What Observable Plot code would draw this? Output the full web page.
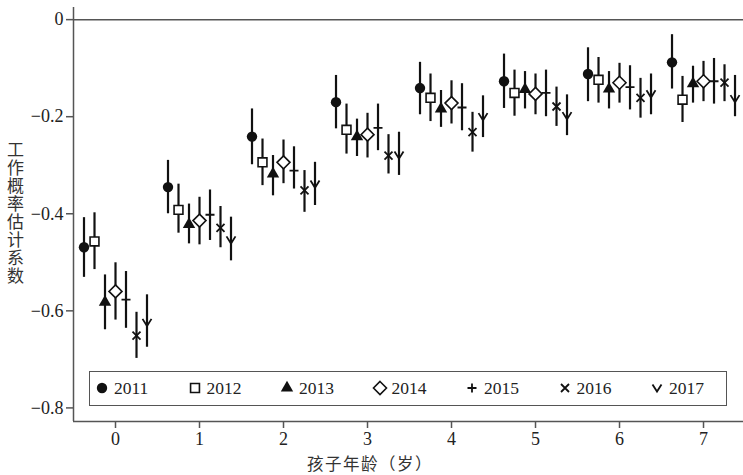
<!DOCTYPE html>
<html>
<head>
<meta charset="utf-8">
<script src="https://cdn.jsdelivr.net/npm/d3@7"></script>
<script src="https://cdn.jsdelivr.net/npm/@observablehq/plot@0.6"></script>
<style>
  html, body { margin: 0; padding: 0; background: #fff; }
  #wrap { position: relative; width: 743px; height: 475px; overflow: hidden; }
  #ylab { position: absolute; left: 6px; top: 141px; writing-mode: vertical-rl; text-orientation: upright;
          font-family: "Noto Sans CJK SC", sans-serif; font-size: 17px; line-height: 18px; letter-spacing: 1px; color: #333; }
  #xlab { position: absolute; left: 250px; width: 240px; top: 454px; text-align: center;
          font-family: "Noto Sans CJK SC", sans-serif; font-size: 16.5px; line-height: 18px; letter-spacing: 1.5px; color: #333; }
  #legend { position: absolute; left: 89px; top: 371px; width: 638px; height: 35px; box-sizing: border-box;
            border: 1.5px solid #555; background: #fff; }
  .li { position: absolute; top: 0; height: 32px; display: flex; align-items: center; }
  .li span { font-family: "Liberation Serif", serif; font-size: 17.5px; color: #222; margin-left: 4px; }
</style>
</head>
<body>
<div id="wrap">
  <div id="chart"></div>
  <div id="ylab">工作概率估计系数</div>
  <div id="xlab">孩子年龄（岁）</div>
  <div id="legend"></div>
</div>
<script>
// ---- data ----
const ages = [0, 1, 2, 3, 4, 5, 6, 7];
const years = ["2011", "2012", "2013", "2014", "2015", "2016", "2017"];
const yTicks = [0, -0.2, -0.4, -0.6, -0.8];

const est2011 = [-0.469, -0.345, -0.241, -0.170, -0.141, -0.127, -0.112, -0.088];
const lo2011  = [-0.531, -0.400, -0.299, -0.225, -0.196, -0.183, -0.169, -0.143];
const hi2011  = [-0.408, -0.290, -0.184, -0.115, -0.088, -0.071, -0.058, -0.031];

const est2012 = [-0.457, -0.392, -0.294, -0.227, -0.161, -0.151, -0.124, -0.165];
const lo2012  = [-0.515, -0.440, -0.342, -0.277, -0.210, -0.199, -0.172, -0.212];
const hi2012  = [-0.398, -0.339, -0.246, -0.174, -0.112, -0.104, -0.078, -0.117];

const est2013 = [-0.582, -0.422, -0.318, -0.241, -0.184, -0.144, -0.143, -0.132];
const lo2013  = [-0.639, -0.462, -0.363, -0.282, -0.222, -0.184, -0.184, -0.172];
const hi2013  = [-0.526, -0.380, -0.280, -0.205, -0.146, -0.107, -0.107, -0.096];

const est2014 = [-0.560, -0.414, -0.294, -0.237, -0.172, -0.153, -0.130, -0.127];
const lo2014  = [-0.619, -0.464, -0.338, -0.285, -0.215, -0.196, -0.172, -0.169];
const hi2014  = [-0.501, -0.366, -0.248, -0.193, -0.126, -0.112, -0.090, -0.086];

const est2015 = [-0.577, -0.402, -0.311, -0.223, -0.181, -0.151, -0.139, -0.127];
const lo2015  = [-0.636, -0.455, -0.349, -0.270, -0.229, -0.200, -0.186, -0.174];
const hi2015  = [-0.519, -0.351, -0.262, -0.174, -0.132, -0.104, -0.095, -0.080];

const est2016 = [-0.651, -0.429, -0.352, -0.280, -0.232, -0.179, -0.161, -0.130];
const lo2016  = [-0.698, -0.470, -0.397, -0.318, -0.273, -0.220, -0.203, -0.169];
const hi2016  = [-0.603, -0.385, -0.311, -0.237, -0.191, -0.139, -0.121, -0.093];

const est2017 = [-0.624, -0.454, -0.339, -0.279, -0.200, -0.198, -0.153, -0.163];
const lo2017  = [-0.675, -0.497, -0.383, -0.321, -0.243, -0.239, -0.196, -0.200];
const hi2017  = [-0.567, -0.407, -0.294, -0.232, -0.157, -0.155, -0.112, -0.115];

const estimates = [est2011, est2012, est2013, est2014, est2015, est2016, est2017];
const lowers    = [lo2011, lo2012, lo2013, lo2014, lo2015, lo2016, lo2017];
const uppers    = [hi2011, hi2012, hi2013, hi2014, hi2015, hi2016, hi2017];

// ---- custom symbols (half-extent r = sqrt(size/π)) ----
const rad = size => Math.sqrt(size / Math.PI);
const symDiamond = { draw(c, size) { const r = rad(size); c.moveTo(0, -r); c.lineTo(r, 0); c.lineTo(0, r); c.lineTo(-r, 0); c.closePath(); } };
const symPlus = { draw(c, size) { const r = rad(size); c.moveTo(-r, 0); c.lineTo(r, 0); c.moveTo(0, -r); c.lineTo(0, r); } };
const symTimes = { draw(c, size) { const r = rad(size); c.moveTo(-r, -r); c.lineTo(r, r); c.moveTo(r, -r); c.lineTo(-r, r); } };
const symVee = { draw(c, size) { const r = rad(size); c.moveTo(-r, -r * 0.8); c.lineTo(0, r * 0.8); c.lineTo(r, -r * 0.8); } };

const styles = [
  { symbol: d3.symbolCircle,   r: 5.2, fill: "#111", stroke: "none", sw: 0 },
  { symbol: d3.symbolSquare,   r: 5.0, fill: "#fff", stroke: "#111", sw: 1.6 },
  { symbol: d3.symbolTriangle, r: 4.6, fill: "#111", stroke: "none", sw: 0 },
  { symbol: symDiamond,        r: 6.5, fill: "#fff", stroke: "#111", sw: 1.6 },
  { symbol: symPlus,           r: 4.5, fill: "none", stroke: "#111", sw: 1.8 },
  { symbol: symTimes,          r: 4.0, fill: "none", stroke: "#111", sw: 1.8 },
  { symbol: symVee,            r: 4.5, fill: "none", stroke: "#111", sw: 1.8 }
];

const rows = years.flatMap((yr, i) => ages.map((a, j) => ({
  year: yr, idx: i, age: a, x: a + (i - 3) * 0.125,
  est: estimates[i][j], lo: lowers[i][j], hi: uppers[i][j]
})));

const xDomain = [-0.5, 7.476];
const yDomain = [-0.828, 0.025];
const axisColor = "#555";

const marks = [
  Plot.ruleY([0], { stroke: axisColor, strokeWidth: 1.5 }),
  Plot.ruleX([xDomain[0]], { stroke: axisColor, strokeWidth: 1.5 }),
  Plot.ruleY([yDomain[0]], { stroke: axisColor, strokeWidth: 1.5 }),
  Plot.axisY({ ticks: yTicks, tickSize: 7, tickPadding: 3, label: null,
    tickFormat: d => d === 0 ? "0" : d3.format(".1f")(d),
    stroke: axisColor, strokeWidth: 1.5, fill: "#222", fontSize: 18 }),
  Plot.axisX({ ticks: ages, tickSize: 7, tickPadding: 4, label: null,
    stroke: axisColor, strokeWidth: 1.5, fill: "#222", fontSize: 18 }),
  Plot.ruleX(rows, { x: "x", y1: "lo", y2: "hi", stroke: "#111", strokeWidth: 2.2 }),
  ...years.map((yr, i) => Plot.dot(rows.filter(d => d.year === yr), {
    x: "x", y: "est", symbol: styles[i].symbol, r: styles[i].r,
    fill: styles[i].fill, stroke: styles[i].stroke, strokeWidth: styles[i].sw
  }))
];

const chart = Plot.plot({
  width: 743, height: 475,
  marginLeft: 73, marginRight: 0, marginTop: 7, marginBottom: 54,
  x: { domain: xDomain },
  y: { domain: yDomain },
  style: { fontFamily: "'Liberation Serif', 'Times New Roman', serif", fontSize: "18px", color: "#222", background: "#fff" },
  marks
});
document.getElementById("chart").appendChild(chart);

// ---- legend ----
const legend = d3.select("#legend");
years.forEach((yr, i) => {
  const st = styles[i];
  const item = legend.append("div").attr("class", "li").style("left", (4 + i * 92.5) + "px");
  const svg = item.append("svg").attr("width", 16).attr("height", 16);
  svg.append("path")
    .attr("transform", "translate(8,8)")
    .attr("d", d3.symbol(st.symbol, Math.PI * st.r * st.r)())
    .attr("fill", st.fill)
    .attr("stroke", st.stroke)
    .attr("stroke-width", st.sw);
  item.append("span").text(yr);
});
</script>
</body>
</html>
